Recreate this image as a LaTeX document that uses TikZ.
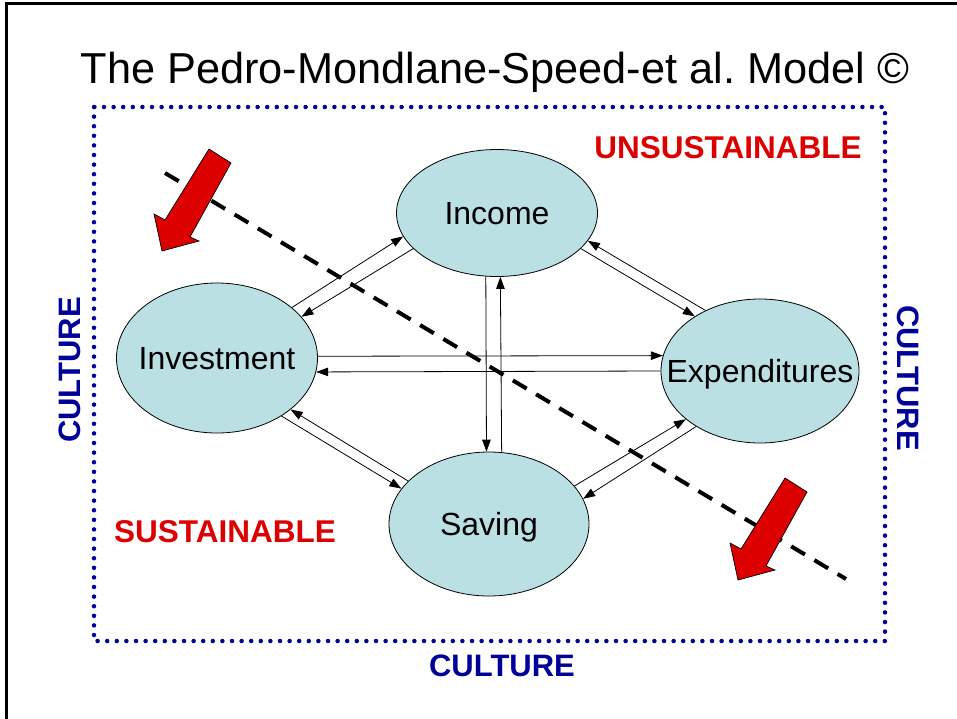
\documentclass[tikz,border=0pt]{standalone}
\usepackage{fontspec}
\setmainfont{Liberation Sans}
\usepackage{tikz}
\usetikzlibrary{positioning}
\usetikzlibrary{shapes.geometric}
\usetikzlibrary{arrows.meta}
\definecolor{ellfill}{RGB}{187,224,228}
\definecolor{culblue}{RGB}{0,0,153}
\definecolor{susred}{RGB}{221,0,0}
\tikzset{
    flow model/.style={
            x=1pt,y=-1pt,on grid,
            sector/.style={ellipse,draw,fill=ellfill,line width=0.8pt,inner sep=0pt,
                    font=\fontsize{32}{36}\selectfont,text height=22pt,text depth=0pt,
                    execute at begin node={\hbox to 0pt\bgroup\hss},
                    execute at end node={\hss\egroup}},
            arrow/.style={-{Triangle[length=12pt,width=8.5pt]},line width=0.8pt},
            culture/.style={font=\fontsize{31}{36}\selectfont\bfseries,text=culblue,inner sep=0pt},
            verdict/.style={font=\fontsize{31.5}{36}\selectfont\bfseries,text=susred,inner sep=0pt,anchor=base},
            blockarrow/.style={fill=susred,draw=black,line width=0.7pt,line join=miter},
            divide/.style={line width=4pt,dash pattern=on 16pt off 11pt},
            border/.style={draw=culblue,line width=4.5pt,line cap=round,dash pattern=on 0pt off 9.6pt}
        }
    }
\newcommand{\blockarrowat}[1]{\draw[blockarrow,shift={#1}] (0,0) -- (-8,-37) -- (3,-31) -- (47,-102) -- (69,-88) -- (28,-14) -- (37,-10) -- cycle;}

\begin{document}
\frenchspacing
\begin{tikzpicture}[flow model]
    \useasboundingbox (0,0) rectangle (957,718);
    \draw[line width=2.5pt] (980,3.5) -- (6.5,3.5) -- (6.5,740);
    \node[anchor=base,inner sep=0pt,font=\fontsize{43.3}{50}\selectfont] (title) at (495,83) {The Pedro-Mondlane-Speed-et al. Model \textcopyright};
    \draw[border] (94,107) rectangle (885,641);
    \node[culture] (cultbot) at (502,666) {CULTURE};
    \node[culture,rotate=90] (cultleft) at (70,370) {CULTURE};
    \node[culture,rotate=-90] (cultright) at (908,378) {CULTURE};
    \node[verdict] (unsust) at (728,158) {UNSUSTAINABLE};
    \node[verdict] (sust) at (225,542) {SUSTAINABLE};

    \node[sector,minimum width=201pt,minimum height=127pt] (income) at (497,213) {Income};
    \node[sector,minimum width=201pt,minimum height=150pt,below left=145pt and 280pt of income] (invest) {Investment};
    \node[sector,minimum width=198pt,minimum height=144pt,below right=158pt and 263pt of income] (expend) {Expenditures};
    \node[sector,minimum width=200pt,minimum height=144pt,below=311pt of income,xshift=-8pt] (saving) {Saving};

    \draw[arrow] (invest.34.6) -- (income.194.6);
    \draw[arrow] (income.203.2) -- (invest.26.8);
    \draw[arrow] (income.-23) -- (expend.140.5);
    \draw[arrow] (expend.132.6) -- (income.-17.6);
    \draw[arrow] (invest.1.1) -- (expend.171.2);
    \draw[arrow] (expend.180.6) -- (invest.-8.1);
    \draw[arrow] (income.260) -- (saving.92.4);
    \draw[arrow] (saving.80.5) -- (income.273.6);
    \draw[arrow] (invest.-42.4) -- (saving.158);
    \draw[arrow] (saving.152.4) -- (invest.-35);
    \draw[arrow] (saving.24) -- (expend.213.7);
    \draw[arrow] (expend.221) -- (saving.15.6);

    \coordinate (divstart) at (165,173);
    \coordinate (divend) at (846,579);
    \draw[divide] (divstart) -- (divend);
    \blockarrowat{(162,251)}
    \blockarrowat{(738,580)}
\end{tikzpicture}
\end{document}
